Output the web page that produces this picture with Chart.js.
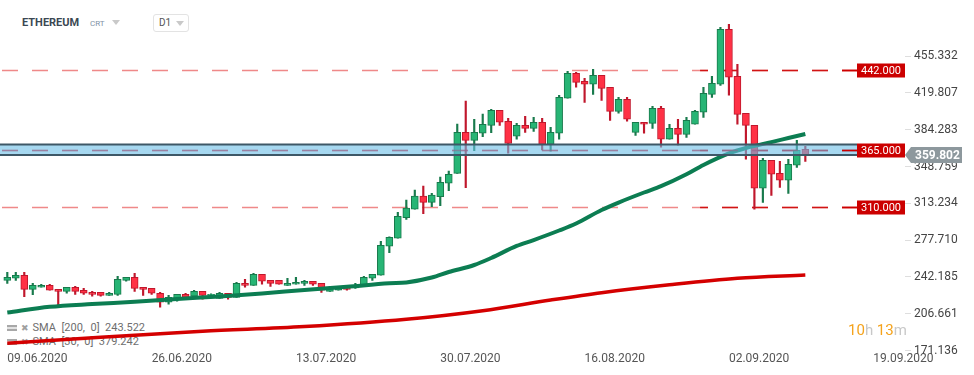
<!DOCTYPE html>
<html>
<head>
<meta charset="utf-8">
<script src="https://cdn.jsdelivr.net/npm/chart.js@4.4.0/dist/chart.umd.min.js"></script>
<style>
body{margin:0;background:#fff;font-family:Roboto,sans-serif}
#wrap{position:relative;width:974px;height:375px;overflow:hidden}
#chart{position:absolute;left:0;top:0;z-index:1}
.abs{position:absolute;white-space:nowrap}
.tri{width:0;height:0;border-left:4px solid transparent;border-right:4px solid transparent;border-top:5px solid #c9c9c9}
.ic{display:inline-block;width:10px;height:2px;border-top:2px solid #a8a8a8;border-bottom:2px solid #a8a8a8;background:#e2e2e2;vertical-align:middle}
.leg{font-size:11px;color:#6e6e6e;left:7px;z-index:0}
.leg b{color:#a0a0a0;font-family:"DejaVu Sans";font-size:9px;margin:0 4px 0 4px}
</style>
</head>
<body>
<div id="wrap">
  <div class="abs" style="left:22px;top:16px;font-size:11px;font-weight:bold;color:#3b4853">ETHEREUM</div>
  <div class="abs" style="left:90px;top:19px;font-size:8px;color:#7f92a6">CRT</div>
  <div class="abs tri" style="left:112px;top:20px"></div>
  <div class="abs" style="left:153px;top:14px;width:34px;height:16px;border:1px solid #e3e3e3;border-radius:3px"></div>
  <div class="abs" style="left:159px;top:17px;font-size:10px;color:#555">D1</div>
  <div class="abs tri" style="left:176px;top:21px"></div>

  <div class="abs leg" style="top:321px"><span class="ic"></span><b>✖</b>SMA&nbsp; [200,&nbsp; 0]&nbsp; 243.522</div>
  <div class="abs leg" style="top:335px"><span class="ic"></span><b>✖</b>SMA&nbsp; [30,&nbsp; 0]&nbsp; 379.242</div>

  <canvas id="chart" width="974" height="375"></canvas>

  <div class="abs" style="left:848px;top:321px;font-size:15px;z-index:2"><span style="color:#f5a31c">10</span><span style="color:#c8c8c8">h </span><span style="color:#f5a31c">13</span><span style="color:#c8c8c8">m</span></div>
</div>

<script>
// daily candles, day 0 = 09.06.2020
var opens  = [238.9,240.9,243.8,230.2,232.2,234.1,230.2,228.3,232.2,229.3,227.3,227.3,224.4,225.4,238.9,241.8,232.2,231.2,226.4,217.7,
              220.6,225.4,223.5,228.3,224.3,221.5,226.4,222.5,236.0,234.1,244.7,238.9,238.9,234.1,235.1,236.0,238.0,236.0,228.3,229.3,
              232.2,231.5,233.1,240.9,243.8,271.8,279.5,299.4,307.5,320.3,314.2,319.7,332.6,342.2,381.8,374.1,380.9,388.6,403.1,392.5,
              378.0,388.6,385.7,391.5,370.2,380.9,414.7,438.8,431.1,428.2,436.9,425.3,402.1,413.7,381.8,391.5,390.5,405.0,375.1,385.7,
              379.9,389.6,401.2,418.5,428.2,481.3,435.9,400.2,388.6,327.8,354.8,342.2,335.5,350.0,365.4];
var highs  = [246.6,246.6,246.6,236.0,235.1,235.1,230.2,232.2,233.1,231.2,228.3,227.3,227.3,242.8,241.8,245.7,232.2,231.2,227.3,224.4,
              225.4,226.4,229.3,228.3,225.8,227.3,226.4,237.0,239.9,245.7,244.7,238.9,238.9,240.9,241.8,239.0,238.0,236.0,233.1,232.2,
              232.5,236.0,242.8,244.7,276.6,281.0,304.6,316.5,326.1,330.0,322.9,338.7,344.5,389.8,412.1,394.4,399.5,404.0,403.1,395.4,
              390.5,397.3,396.3,395.4,386.7,417.6,440.7,439.8,434.0,442.7,436.9,425.3,415.6,415.6,391.5,391.5,406.9,406.9,389.6,394.4,
              396.3,403.1,425.3,435.9,483.2,486.1,447.5,400.2,388.6,356.7,354.8,353.8,355.8,374.1,368.3];
var lows   = [236.0,238.9,223.1,225.0,232.2,229.3,215.4,226.4,225.4,225.4,223.5,223.5,224.4,224.4,238.0,228.3,224.4,225.4,212.9,215.8,
              218.7,220.6,223.5,220.6,223.4,221.5,220.6,222.5,232.2,234.1,235.1,233.1,235.1,234.1,235.1,234.1,234.1,227.3,228.3,229.3,
              229.5,231.2,233.1,238.9,243.8,265.6,279.5,297.8,307.5,303.2,310.0,310.9,325.5,342.2,328.3,364.1,377.6,381.5,388.6,361.6,
              375.1,381.8,382.8,364.8,363.5,375.1,414.7,425.3,410.8,418.5,412.7,393.4,400.2,392.5,378.9,380.9,385.7,367.4,375.1,369.3,
              377.0,389.6,396.3,415.6,427.2,417.6,389.6,355.8,307.5,314.2,321.0,328.7,322.9,348.0,353.8];
var closes = [241.8,243.8,230.2,234.1,234.1,229.3,228.3,232.2,228.3,226.4,225.4,224.4,226.4,239.9,241.8,231.2,230.2,226.4,217.7,222.5,
              225.4,222.5,228.3,224.4,224.9,226.4,222.5,236.0,234.1,244.7,238.0,236.0,235.1,236.0,237.0,238.0,235.1,229.3,231.2,232.2,
              230.2,232.0,241.8,244.7,272.7,280.5,300.7,308.7,320.3,314.2,321.3,333.6,341.3,381.8,374.1,381.8,389.6,403.1,391.5,371.2,
              388.6,385.7,391.5,370.2,381.8,415.6,438.8,430.1,428.2,436.9,424.3,402.1,413.7,394.4,391.5,389.6,405.0,375.1,385.7,379.9,
              393.4,402.1,419.5,429.2,481.3,435.0,399.2,388.6,327.8,354.8,341.3,335.5,350.9,364.5,359.802];

var sma30Days    = [0,5,10,15,20,25,30,35,40,45,47,50,52,55,57,60,62,65,67,70,72,75,77,80,82,85,87,90,92,94];
var sma30Values  = [207.8,213.3,216.0,218.2,220.9,223.3,226.2,229.6,232.7,236.0,236.8,241.6,246.9,253.7,260.5,272.1,277.8,287.0,293.8,306.8,
                    314.0,323.7,329.8,341.3,350.3,361.5,366.7,372.4,376.3,380.2];
var sma200Days   = [0,11,23,35,47,56,64,70,78,86,94];
var sma200Values = [178.1,184.0,189.7,194.2,201.3,209.6,219.9,227.0,234.6,240.9,244.0];

var levels    = [442, 365, 310];
var zoneLow   = 359.9;
var zoneHigh  = 370.05;
var lastPrice = 359.802;

var yTicks      = [171.136,206.661,242.185,277.710,313.234,348.759,384.283,419.807,455.332];
var xTickDays   = [0,17,34,51,68,85,102];
var xTickLabels = ['09.06.2020','26.06.2020','13.07.2020','30.07.2020','16.08.2020','02.09.2020','19.09.2020'];

var GREEN = '#27b575', GREEN_EDGE = '#187a4c', RED = '#ff3145', RED_EDGE = '#c0172c';

var up = closes.map(function(c, i){ return c >= opens[i]; });

Chart.defaults.font.family = 'Roboto, sans-serif';

var levelPlugin = {
  id: 'levels',
  beforeDatasetsDraw: function(chart) {
    var ctx = chart.ctx, a = chart.chartArea, y = chart.scales.y, x = chart.scales.x;
    var boxLeft = a.right - 48;
    var darkFrom = x.getPixelForValue(81.6);
    ctx.save();
    ctx.lineWidth = 1.5;
    ctx.setLineDash([16, 14]);
    ctx.lineDashOffset = -2;
    levels.forEach(function(v) {
      var py = Math.round(y.getPixelForValue(v)) + 0.5;
      ctx.strokeStyle = 'rgba(225,40,40,0.55)';
      ctx.beginPath(); ctx.moveTo(0, py); ctx.lineTo(boxLeft, py); ctx.stroke();
      ctx.save();
      ctx.beginPath(); ctx.rect(darkFrom, py - 3, boxLeft - darkFrom, 6); ctx.clip();
      ctx.strokeStyle = 'rgba(205,0,0,0.85)';
      ctx.beginPath(); ctx.moveTo(0, py); ctx.lineTo(boxLeft, py); ctx.stroke();
      ctx.restore();
    });
    ctx.restore();
  },
  afterDatasetsDraw: function(chart) {
    var ctx = chart.ctx, a = chart.chartArea, y = chart.scales.y;
    var boxLeft = a.right - 48;
    var top = y.getPixelForValue(zoneHigh), bot = y.getPixelForValue(zoneLow);
    ctx.save();
    // support zone
    ctx.fillStyle = 'rgba(107,190,230,0.6)';
    ctx.fillRect(0, top, boxLeft, bot - top);
    ctx.strokeStyle = '#3e5867';
    ctx.lineWidth = 2;
    ctx.beginPath();
    ctx.moveTo(0, top); ctx.lineTo(boxLeft, top);
    ctx.moveTo(0, bot); ctx.lineTo(boxLeft, bot);
    ctx.stroke();
    // level line inside the zone
    var pz = Math.round(y.getPixelForValue(365)) + 0.5;
    ctx.lineWidth = 1.5;
    ctx.setLineDash([16, 14]);
    ctx.lineDashOffset = -2;
    ctx.strokeStyle = 'rgba(150,95,135,0.55)';
    ctx.beginPath(); ctx.moveTo(0, pz); ctx.lineTo(boxLeft, pz); ctx.stroke();
    ctx.setLineDash([]);
    // level tags
    ctx.font = '11px Roboto, sans-serif';
    ctx.textAlign = 'center';
    ctx.textBaseline = 'middle';
    levels.forEach(function(v) {
      var py = Math.round(y.getPixelForValue(v)) + 0.5;
      ctx.strokeStyle = '#cc0000';
      ctx.lineWidth = 1.5;
      ctx.beginPath(); ctx.moveTo(boxLeft - 15, py); ctx.lineTo(boxLeft, py); ctx.stroke();
      ctx.fillStyle = '#cc0000';
      ctx.fillRect(boxLeft, py - 7, 48, 14);
      ctx.fillStyle = '#ffffff';
      ctx.fillText(v.toFixed(3), boxLeft + 24, py + 0.5);
    });
    // last price tag
    var pp = y.getPixelForValue(lastPrice);
    ctx.fillStyle = '#8d989d';
    ctx.beginPath();
    ctx.moveTo(a.right, pp);
    ctx.lineTo(a.right + 6, pp - 8);
    ctx.lineTo(a.right + 57, pp - 8);
    ctx.lineTo(a.right + 57, pp + 8);
    ctx.lineTo(a.right + 6, pp + 8);
    ctx.closePath();
    ctx.fill();
    ctx.fillStyle = '#ffffff';
    ctx.font = 'bold 12px Roboto, sans-serif';
    ctx.textAlign = 'left';
    ctx.fillText(lastPrice.toFixed(3), a.right + 10, pp + 0.5);
    ctx.restore();
  }
};

new Chart(document.getElementById('chart'), {
  type: 'bar',
  data: {
    datasets: [
      {
        type: 'line',
        label: 'SMA 30',
        data: sma30Days.map(function(d, i){ return {x: d, y: sma30Values[i]}; }),
        borderColor: '#0c7d52',
        borderWidth: 4,
        pointRadius: 0,
        cubicInterpolationMode: 'monotone',
        order: 0
      },
      {
        type: 'line',
        label: 'SMA 200',
        data: sma200Days.map(function(d, i){ return {x: d, y: sma200Values[i]}; }),
        borderColor: '#d40000',
        borderWidth: 3.5,
        pointRadius: 0,
        cubicInterpolationMode: 'monotone',
        order: 0
      },
      {
        label: 'body',
        data: opens.map(function(o, i){ return {x: i, y: [o, closes[i]]}; }),
        backgroundColor: up.map(function(u){ return u ? GREEN : RED; }),
        borderColor: up.map(function(u){ return u ? GREEN_EDGE : RED_EDGE; }),
        borderWidth: 1,
        borderSkipped: false,
        barThickness: 7,
        minBarLength: 1,
        grouped: false,
        order: 1
      },
      {
        label: 'wick',
        data: lows.map(function(l, i){ return {x: i, y: [l, highs[i]]}; }),
        backgroundColor: up.map(function(u){ return u ? GREEN_EDGE : RED_EDGE; }),
        borderWidth: 0,
        barThickness: 1.5,
        grouped: false,
        order: 2
      }
    ]
  },
  options: {
    responsive: false,
    animation: false,
    devicePixelRatio: 1,
    layout: { padding: { top: 20, left: 0, right: 0, bottom: 0 } },
    plugins: { legend: { display: false }, tooltip: { enabled: false } },
    scales: {
      x: {
        type: 'linear',
        min: -0.86,
        max: 105.74,
        offset: false,
        grid: { drawOnChartArea: false, drawTicks: false, offset: false },
        border: { display: false },
        afterBuildTicks: function(s){ s.ticks = xTickDays.map(function(v){ return {value: v}; }); },
        afterFit: function(s){ s.height = 24.5; },
        ticks: {
          align: 'start',
          padding: 1,
          autoSkip: false,
          maxRotation: 0,
          color: '#555',
          font: { size: 12 },
          callback: function(v, i){ return xTickLabels[i]; }
        }
      },
      y: {
        position: 'right',
        min: 171.136,
        max: 490.28,
        grid: { drawOnChartArea: false, drawTicks: true, tickLength: 6, color: '#dedede' },
        border: { display: false },
        afterBuildTicks: function(s){ s.ticks = yTicks.map(function(v){ return {value: v}; }); },
        afterFit: function(s){ s.width = 69; },
        ticks: {
          padding: 3,
          color: '#444',
          font: { size: 12 },
          callback: function(v){ return v.toFixed(3); }
        }
      }
    }
  },
  plugins: [levelPlugin]
});
</script>
</body>
</html>
